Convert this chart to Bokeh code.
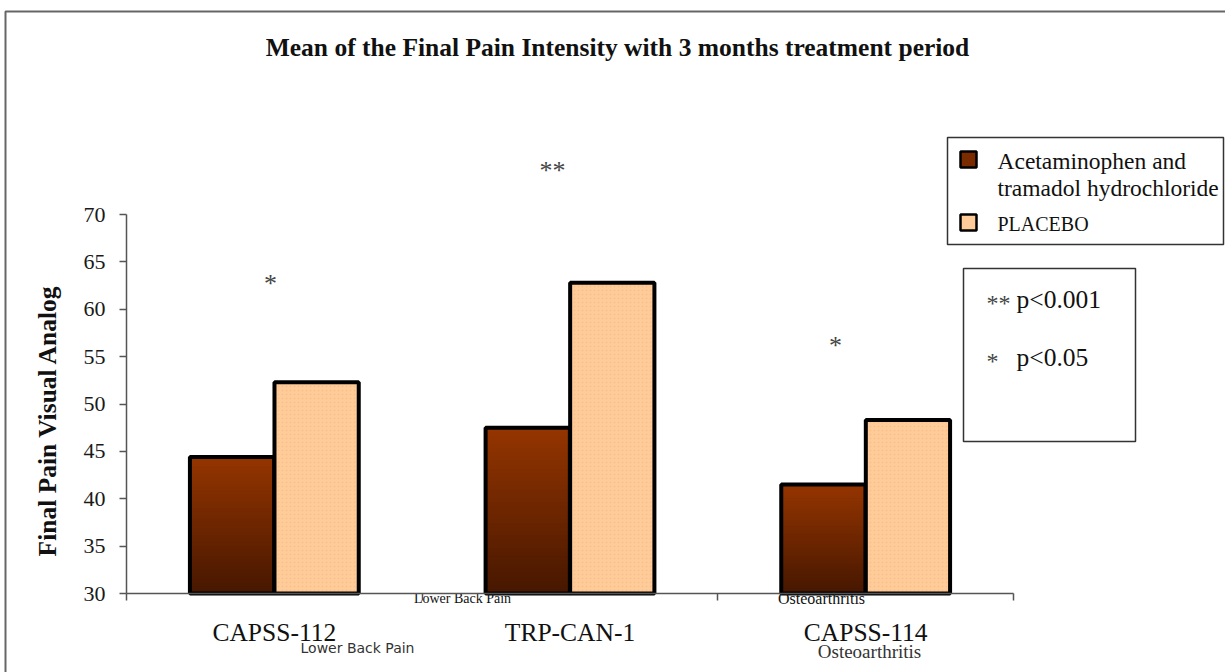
import math
import numpy as np
from bokeh.plotting import figure
from bokeh.models import Range1d, FixedTicker, BoxAnnotation
from bokeh.core.properties import value
from bokeh.embed import file_html
from bokeh.resources import INLINE

# ---------------- data ----------------
categories = ["CAPSS-112", "TRP-CAN-1", "CAPSS-114"]
indications = ["Lower Back Pain", "", "Osteoarthritis"]
treatment = [44.4, 47.5, 41.5]
placebo = [52.3, 62.8, 48.3]
significance = ["*", "**", "*"]
star_level = [62.7, 74.6, 56.2]
y_ticks = [30, 35, 40, 45, 50, 55, 60, 65, 70]
series_names = ["Acetaminophen and tramadol hydrochloride", "PLACEBO"]
p_notes = ["**", "*"]
p_texts = ["p<0.001", "p<0.05"]

TITLE = "Mean of the Final Pain Intensity with 3 months treatment period"
Y_LABEL = "Final Pain Visual Analog"

# ---------------- geometry (page pixels -> data) ----------------
W, H = 1225, 672
FRAME_LEFT = 126          # page px of the y axis
Y0_PAGE, Y70_PAGE = 593, 214
PX_PER_Y = (Y0_PAGE - Y70_PAGE) / 40.0
PX_PER_X = (1013 - FRAME_LEFT) / 3.0


def px(x_page):
    return (x_page - FRAME_LEFT) / PX_PER_X


def py(y_page):
    return 30 + (Y0_PAGE - y_page) / PX_PER_Y


SERIF = value("Liberation Serif")
SANS = value("DejaVu Sans")

p = figure(width=W, height=H, output_backend="svg", toolbar_location=None,
           x_range=Range1d(px(0), px(W)), y_range=Range1d(py(H), py(0)),
           min_border_left=0, min_border_right=0,
           min_border_top=0, min_border_bottom=0)
p.outline_line_color = None
p.grid.visible = False
p.background_fill_color = "white"
p.border_fill_color = "white"

centers = [i + 0.5 for i in range(len(categories))]

# x axis: category names at centres, boundary ticks as minor ticks
xa = p.xaxis[0]
xa.fixed_location = 30
xa.ticker = FixedTicker(ticks=centers, minor_ticks=[0, 1, 2, 3])
xa.bounds = (0, 3)
xa.major_label_overrides = {c: name for c, name in zip(centers, categories)}
xa.major_label_text_font = "Liberation Serif"
xa.major_label_text_font_size = "25.5px"
xa.major_label_text_color = "#111111"
xa.major_label_standoff = 17
xa.major_tick_out = 0
xa.major_tick_in = 0
xa.minor_tick_out = 7
xa.minor_tick_in = 0
xa.axis_line_color = "#555555"
xa.axis_line_width = 1.5
xa.minor_tick_line_color = "#555555"
xa.minor_tick_line_width = 1.5

ya = p.yaxis[0]
ya.fixed_location = 0
ya.ticker = FixedTicker(ticks=y_ticks)
ya.bounds = (30, 70)
ya.major_tick_out = 7
ya.major_tick_in = 0
ya.minor_tick_out = 0
ya.minor_tick_in = 0
ya.axis_line_color = "#555555"
ya.axis_line_width = 1.5
ya.major_tick_line_color = "#555555"
ya.major_tick_line_width = 1.5
ya.major_label_text_font = "Liberation Serif"
ya.major_label_text_font_size = "22px"
ya.major_label_text_color = "#1a1a1a"
ya.major_label_standoff = 14

# outer frame of the picture (left and top edges visible)
p.add_layout(BoxAnnotation(left=px(5), right=px(W + 50), top=py(11),
                           bottom=py(H + 50), fill_alpha=0,
                           line_color="#666666", line_alpha=1, line_width=2))

# ---------------- bars ----------------
BAR_W = 0.285
OFF = 0.143
x_t = [c - OFF for c in centers]
x_p = [c + OFF for c in centers]

top_col = np.array([0x95, 0x35, 0x00], dtype=float)
bot_col = np.array([0x46, 0x17, 0x00], dtype=float)
N = 40
gx, gtop, gcol = [], [], []
for xi, v in zip(x_t, treatment):
    edges = np.linspace(30, v, N + 1)
    for k in range(N, 0, -1):
        t = (k - 0.5) / N
        c = bot_col + (top_col - bot_col) * t
        gx.append(xi)
        gtop.append(edges[k])
        gcol.append("#%02x%02x%02x" % tuple(int(round(a)) for a in c))
p.vbar(x=gx, top=gtop, bottom=30, width=BAR_W, fill_color=gcol, line_color=None)
p.vbar(x=x_t, top=treatment, bottom=30, width=BAR_W, fill_alpha=0,
       line_color="black", line_width=4)

p.vbar(x=x_p, top=placebo, bottom=30, width=BAR_W, fill_color="#FFCC99",
       hatch_pattern="dot", hatch_color="#F2B27C", hatch_alpha=0.45,
       hatch_scale=4, hatch_weight=1,
       line_color="black", line_width=4)

# ---------------- significance stars ----------------
star_x = [px(270), px(552), px(835)]
p.text(x=star_x, y=star_level, text=significance, text_font=SERIF,
       text_font_size="26px", text_color="#444444",
       text_align="center", text_baseline="middle")

# ---------------- indication labels ----------------
p.text(x=[px(357)], y=py(647), text=[indications[0]], text_font=SANS,
       text_font_size="14px", text_color="#333333",
       text_align="center", text_baseline="middle")
p.text(x=[px(869)], y=py(651), text=[indications[2]], text_font=SERIF,
       text_font_size="19px", text_color="#333333",
       text_align="center", text_baseline="middle")
p.text(x=[px(462)], y=py(598), text=[indications[0]], text_font=SERIF,
       text_font_size="14px", text_color="#111111",
       text_align="center", text_baseline="middle")
p.text(x=[px(821)], y=py(598), text=[indications[2]], text_font=SERIF,
       text_font_size="16px", text_color="#111111",
       text_align="center", text_baseline="middle")

# ---------------- title & y axis label ----------------
p.text(x=[px(617)], y=[py(47)], text=[TITLE], text_font=SERIF,
       text_font_style="bold", text_font_size="25.5px", text_color="#111111",
       text_align="center", text_baseline="middle")
p.text(x=[px(47)], y=[py(420)], text=[Y_LABEL], text_font=SERIF,
       text_font_style="bold", text_font_size="25.5px", text_color="#111111",
       angle=math.pi / 2, text_align="center", text_baseline="middle")

# ---------------- legend box ----------------
p.add_layout(BoxAnnotation(left=px(947), right=px(1223), top=py(137),
                           bottom=py(244), fill_alpha=0, line_color="#333333",
                           line_alpha=1, line_width=1.5))
p.scatter(x=[px(968), px(968)], y=[py(159), py(222)], marker="square", size=16,
          fill_color=["#7a2b00", "#FFCC99"], line_color="black", line_width=2.5)
p.text(x=[px(997), px(997)], y=[py(160), py(187)],
       text=["Acetaminophen and", "tramadol hydrochloride"], text_font=SERIF,
       text_font_size="23.5px", text_color="#111111",
       text_align="left", text_baseline="middle")
p.text(x=[px(997)], y=[py(223)], text=[series_names[1]], text_font=SERIF,
       text_font_size="20px", text_color="#111111",
       text_align="left", text_baseline="middle")

# ---------------- p-value box ----------------
p.add_layout(BoxAnnotation(left=px(963), right=px(1135), top=py(268),
                           bottom=py(441), fill_alpha=0, line_color="#333333",
                           line_alpha=1, line_width=1.5))
p.text(x=[px(986), px(986)], y=[py(302), py(360)], text=p_notes, text_font=SERIF,
       text_font_size="24px", text_color="#444444",
       text_align="left", text_baseline="middle")
p.text(x=[px(1016), px(1016)], y=[py(299), py(357)], text=p_texts, text_font=SERIF,
       text_font_size="25.5px", text_color="#111111",
       text_align="left", text_baseline="middle")

open("out.html", "w").write(file_html(p, INLINE))
